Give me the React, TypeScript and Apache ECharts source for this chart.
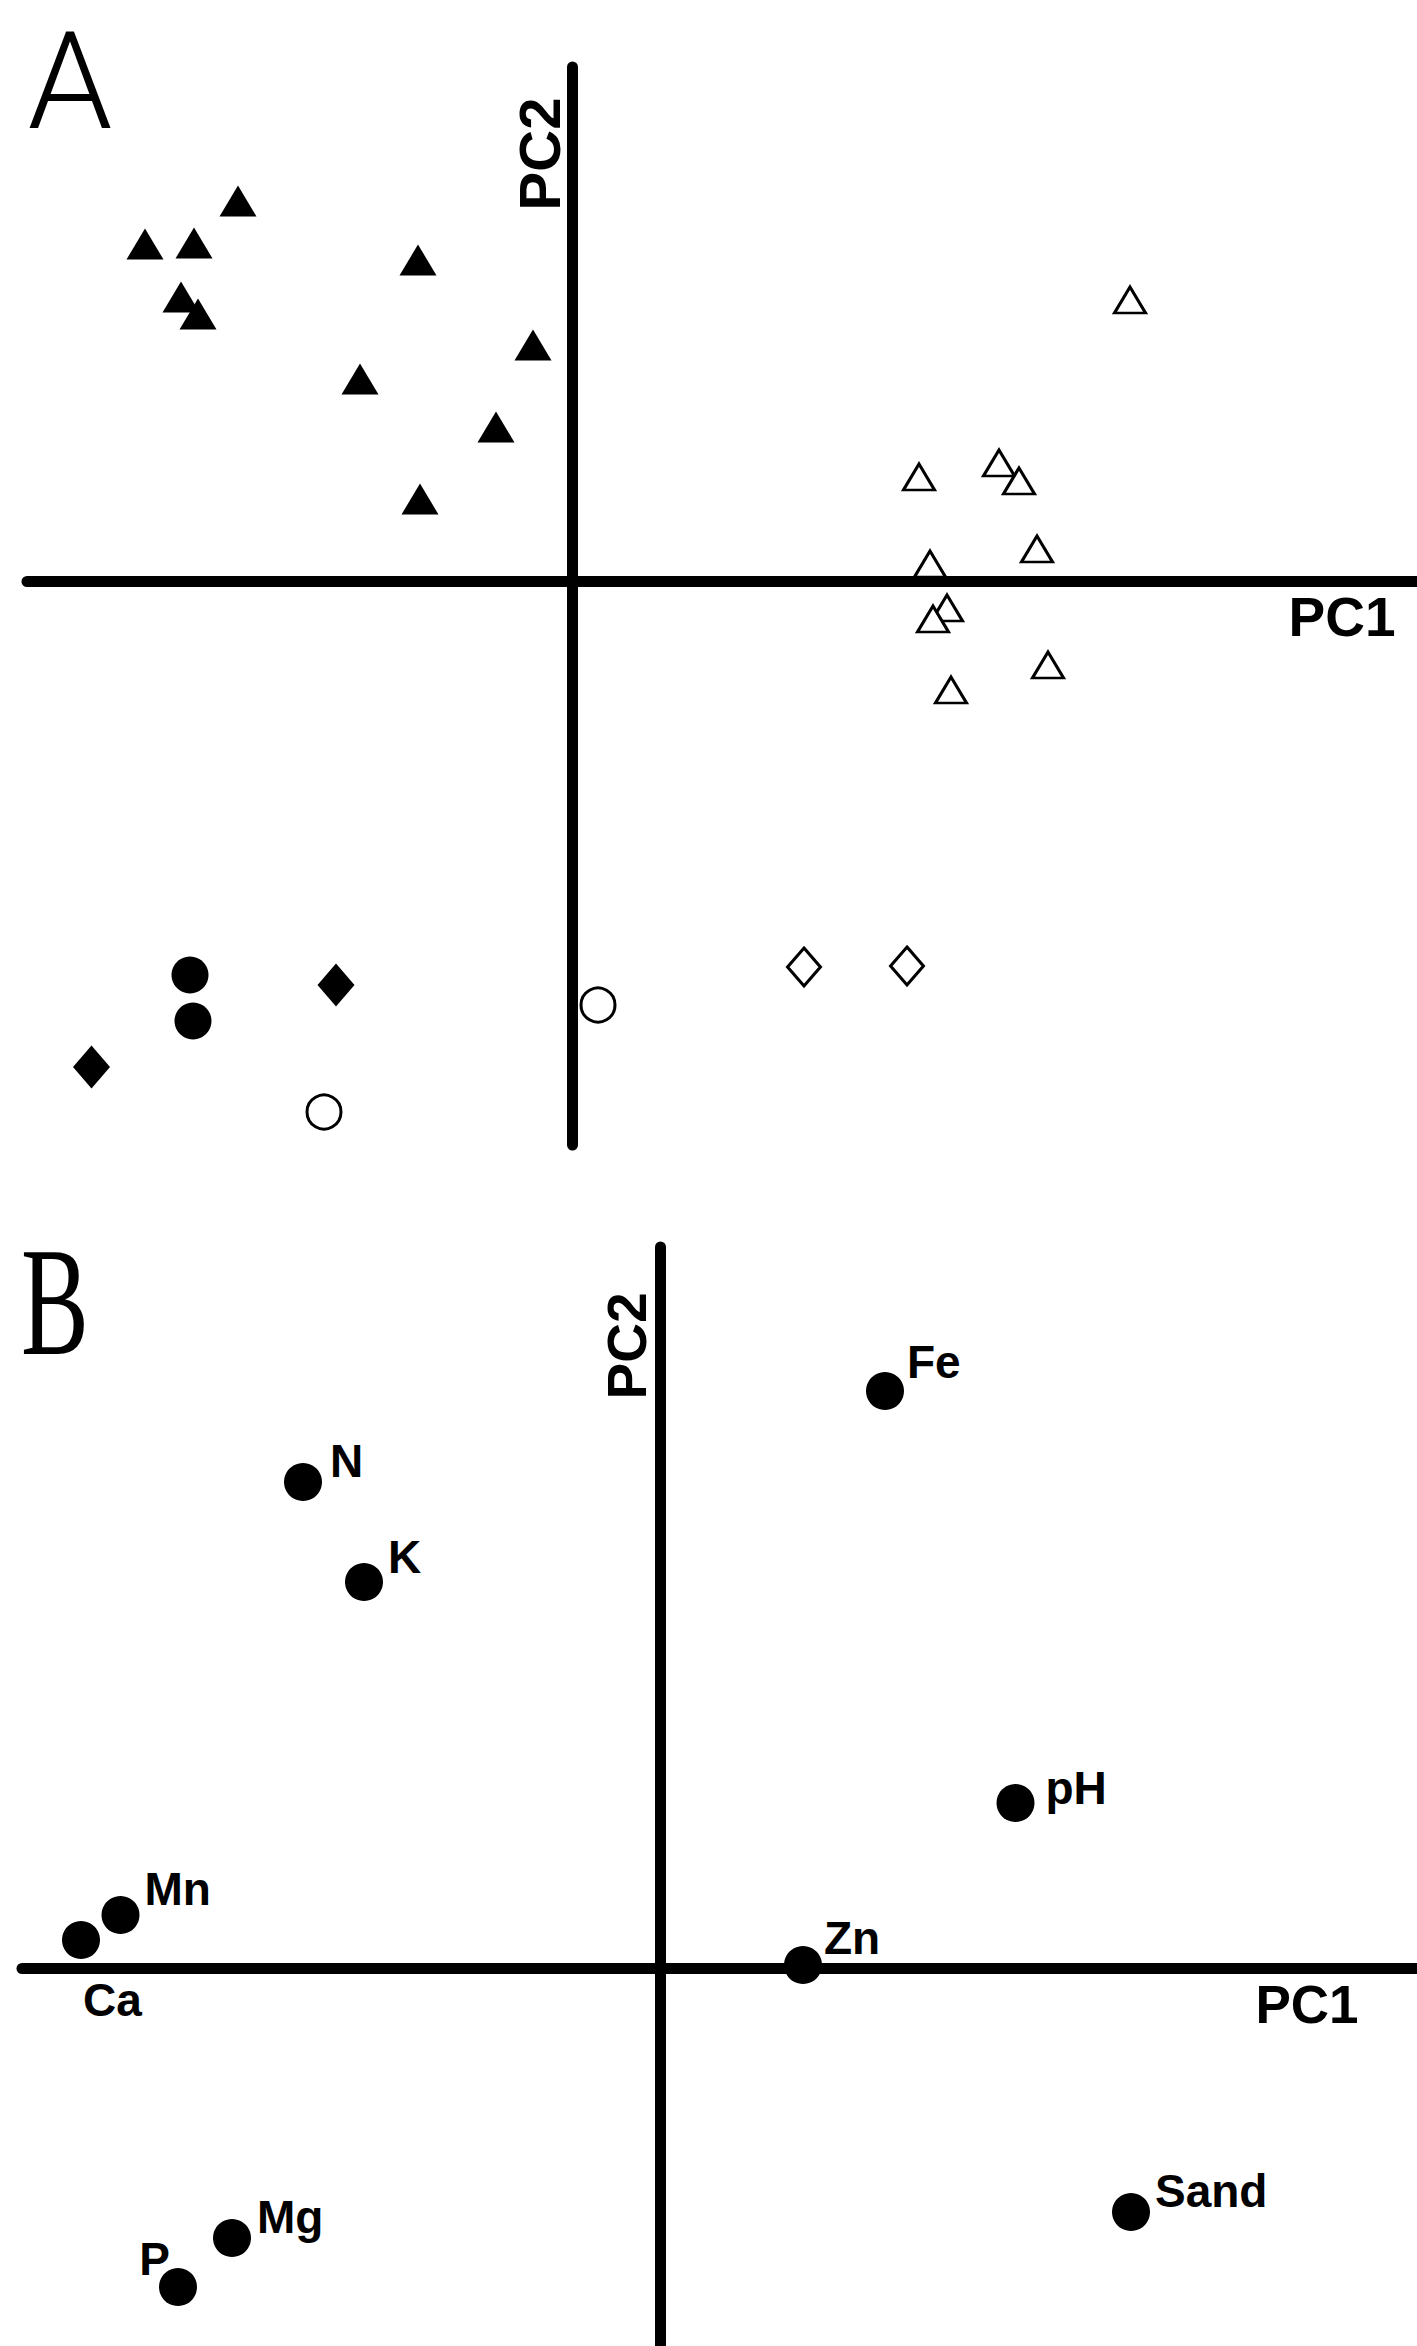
import React, { useEffect, useRef } from "react";
import * as echarts from "echarts";

// ---------- Panel A: sample scores on PC1 / PC2 ----------
const filledTrianglesA: number[][] = [
  [-3.34, 3.8], [-4.27, 3.37], [-3.78, 3.38], [-3.91, 2.84], [-3.74, 2.67],
  [-1.54, 3.21], [-0.39, 2.36], [-2.12, 2.02], [-0.76, 1.54], [-1.52, 0.82],
];
const openTrianglesA: number[][] = [
  [5.58, 2.81], [3.47, 1.04], [4.27, 1.18], [4.47, 1.0], [4.65, 0.32],
  [3.58, 0.17], [3.75, -0.27], [3.61, -0.38], [4.76, -0.84], [3.79, -1.09],
];
const filledCirclesA: number[][] = [[-3.82, -3.94], [-3.79, -4.4]];
const filledDiamondsA: number[][] = [[-2.36, -4.04], [-4.805, -4.86]];
const openCirclesA: number[][] = [[0.26, -4.24], [-2.48, -5.31]];
const openDiamondsA: number[][] = [[2.32, -3.86], [3.35, -3.85]];

// ---------- Panel B: variable loadings on PC1 / PC2 ----------
const variablesB = ["Fe", "N", "K", "pH", "Mn", "Ca", "Zn", "Sand", "Mg", "P"];
const pc1B = [2.25, -3.57, -2.96, 3.555, -5.395, -5.79, 1.43, 4.71, -4.28, -4.82];
const pc2B = [5.77, 4.86, 3.86, 1.65, 0.53, 0.28, 0.03, -2.44, -2.7, -3.19];

// axis extents
const xRangeA = [-5.45, 8.45];
const yRangeA = [-5.64, 5.14];
const xRangeB = [-6.38, 7.57];
const yRangeB = [-3.78, 7.21];

// label anchor offsets (px from the point centre) for panel B
const labelPlacementB: Record<string, [number, number, string]> = {
  Fe: [22, -29, "left"],
  N: [27, -21, "left"],
  K: [24, -25, "left"],
  pH: [30, -15, "left"],
  Mn: [24, -26, "left"],
  Ca: [2, 60, "left"],
  Zn: [21, -27, "left"],
  Sand: [24, -21, "left"],
  Mg: [25, -21, "left"],
  P: [-8, -28, "right"],
};

const B_SIZE = 38;

function axis(range: number[], gridIndex: number) {
  return {
    type: "value",
    gridIndex,
    min: range[0],
    max: range[1],
    axisLine: { show: true, onZero: true, lineStyle: { color: "#000", width: 11 } },
    axisTick: { show: false },
    axisLabel: { show: false },
    splitLine: { show: false },
  };
}

export default function App() {
  const ref = useRef<HTMLDivElement>(null);

  useEffect(() => {
    if (!ref.current) return;
    const chart = echarts.init(ref.current, undefined, { renderer: "svg" });

    const filled = { color: "#000", borderWidth: 0, opacity: 1 };
    const open = { color: "#fff", borderColor: "#000", borderWidth: 3, opacity: 1 };
    const noHover = { disabled: true };

    const dataB = variablesB.map((name, i) => {
      const p = labelPlacementB[name];
      return {
        name,
        value: [pc1B[i], pc2B[i]],
        label: {
          position: [B_SIZE / 2 + p[0], B_SIZE / 2 + p[1]],
          align: p[2],
        },
      };
    });

    const scatterA = (symbol: string, symbolSize: any, itemStyle: any, data: number[][]) => ({
      type: "scatter", xAxisIndex: 0, yAxisIndex: 0, symbol, symbolSize, itemStyle, data,
      z: 3, emphasis: noHover,
    });

    chart.setOption({
      animation: false,
      backgroundColor: "#fff",
      grid: [
        { left: 27, top: 67, width: 1390, height: 1078 },
        { left: 22, top: 1247, width: 1395, height: 1099 },
      ],
      xAxis: [axis(xRangeA, 0), axis(xRangeB, 1)],
      yAxis: [axis(yRangeA, 0), axis(yRangeB, 1)],
      series: [
        scatterA("triangle", [37, 31], filled, filledTrianglesA),
        scatterA("triangle", [31, 26], open, openTrianglesA),
        scatterA("circle", 37, filled, filledCirclesA),
        scatterA("diamond", [37, 43], filled, filledDiamondsA),
        scatterA("circle", 34, open, openCirclesA),
        scatterA("diamond", [33, 38], open, openDiamondsA),
        {
          type: "scatter", xAxisIndex: 1, yAxisIndex: 1, symbol: "circle",
          symbolSize: B_SIZE, itemStyle: filled, data: dataB, z: 3, emphasis: noHover,
          label: {
            show: true,
            formatter: "{b}",
            verticalAlign: "middle",
            color: "#000",
            opacity: 1,
            fontFamily: "'Liberation Sans', Arial, sans-serif",
            fontWeight: "bold",
            fontSize: 46,
          },
        },
      ],
      graphic: [
        {
          type: "text", x: 70, y: 81,
          style: {
            text: "A", fill: "#000", fontSize: 136,
            fontFamily: "Roboto, 'DejaVu Sans', sans-serif",
            fontWeight: 300, textAlign: "center", textVerticalAlign: "middle",
          },
        },
        {
          type: "text", x: 55, y: 1302, scaleX: 0.66,
          style: {
            text: "B", fill: "#000", fontSize: 154,
            fontFamily: "'Liberation Serif', 'DejaVu Serif', serif",
            textAlign: "center", textVerticalAlign: "middle",
          },
        },
        {
          type: "text", x: 539, y: 154, rotation: Math.PI / 2,
          style: {
            text: "PC2", fill: "#000", fontSize: 58, fontWeight: "bold",
            fontFamily: "'Liberation Sans', Arial, sans-serif",
            textAlign: "center", textVerticalAlign: "middle",
          },
        },
        {
          type: "text", x: 1342, y: 617,
          style: {
            text: "PC1", fill: "#000", fontSize: 55, fontWeight: "bold",
            fontFamily: "'Liberation Sans', Arial, sans-serif",
            textAlign: "center", textVerticalAlign: "middle",
          },
        },
        {
          type: "text", x: 627, y: 1346, rotation: Math.PI / 2,
          style: {
            text: "PC2", fill: "#000", fontSize: 55, fontWeight: "bold",
            fontFamily: "'Liberation Sans', Arial, sans-serif",
            textAlign: "center", textVerticalAlign: "middle",
          },
        },
        {
          type: "text", x: 1307, y: 2004,
          style: {
            text: "PC1", fill: "#000", fontSize: 53, fontWeight: "bold",
            fontFamily: "'Liberation Sans', Arial, sans-serif",
            textAlign: "center", textVerticalAlign: "middle",
          },
        },
      ],
    });

    return () => chart.dispose();
  }, []);

  return (
    <div
      ref={ref}
      style={{ position: "absolute", left: 0, top: 0, width: 1417, height: 2346, background: "#fff" }}
    />
  );
}
